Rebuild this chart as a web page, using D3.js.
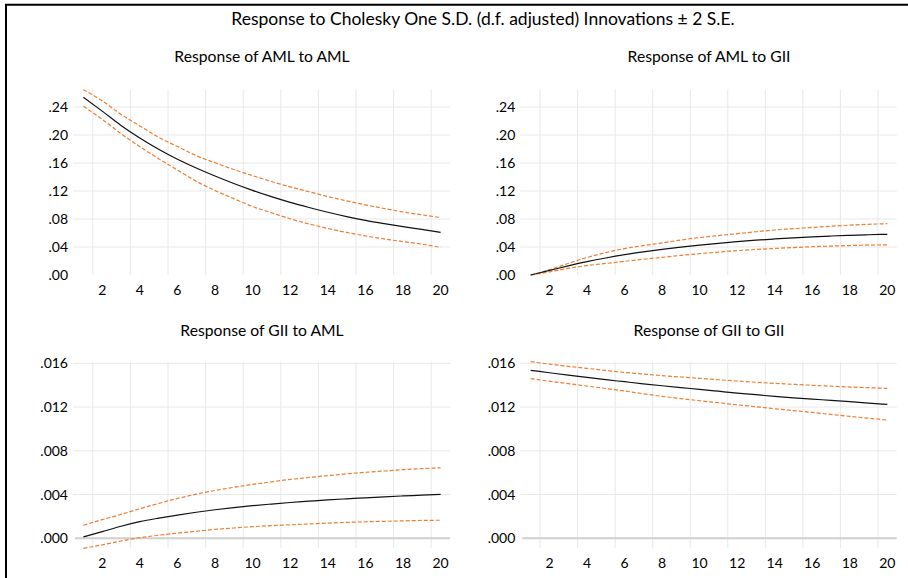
<!DOCTYPE html>
<html>
<head>
<meta charset="utf-8">
<script src="https://cdn.jsdelivr.net/npm/d3@7"></script>
<style>
  html, body { margin: 0; padding: 0; background: #fff; }
  svg { display: block; }
  text { font-family: Lato, "Open Sans", sans-serif; fill: #000; }
</style>
</head>
<body>
<svg id="chart" width="908" height="578"></svg>
<script>
// ---------------- data ----------------
const periods = d3.range(1, 21);
const xTickLabels = [2, 4, 6, 8, 10, 12, 14, 16, 18, 20];
const yTicksTop = [0, 0.04, 0.08, 0.12, 0.16, 0.20, 0.24];
const yTicksBottom = [0, 0.004, 0.008, 0.012, 0.016];

const mainTitle = "Response to Cholesky One S.D. (d.f. adjusted) Innovations \u00b1 2 S.E.";
const panelTitles = ["Response of AML to AML", "Response of AML to GII",
                     "Response of GII to AML", "Response of GII to GII"];

const amlAml   = [0.2540, 0.2341, 0.2137, 0.1957, 0.1796, 0.1654, 0.1529, 0.1414, 0.1307, 0.1209,
                  0.1119, 0.1037, 0.0964, 0.0896, 0.0835, 0.0780, 0.0733, 0.0690, 0.0652, 0.0610];
const amlAmlHi = [0.2648, 0.2487, 0.2295, 0.2130, 0.1968, 0.1835, 0.1705, 0.1603, 0.1507, 0.1419,
                  0.1336, 0.1259, 0.1189, 0.1121, 0.1060, 0.1002, 0.0950, 0.0900, 0.0860, 0.0820];
const amlAmlLo = [0.2410, 0.2224, 0.2019, 0.1834, 0.1662, 0.1500, 0.1340, 0.1207, 0.1091, 0.0978,
                  0.0890, 0.0803, 0.0730, 0.0665, 0.0608, 0.0558, 0.0515, 0.0477, 0.0441, 0.0395];

const amlGii   = [0.0000, 0.0065, 0.0130, 0.0190, 0.0243, 0.0290, 0.0330, 0.0366, 0.0398, 0.0427,
                  0.0453, 0.0476, 0.0497, 0.0515, 0.0531, 0.0545, 0.0557, 0.0567, 0.0575, 0.0581];
const amlGiiHi = [0.0000, 0.0075, 0.0165, 0.0250, 0.0320, 0.0378, 0.0420, 0.0458, 0.0500, 0.0535,
                  0.0563, 0.0590, 0.0618, 0.0643, 0.0662, 0.0680, 0.0697, 0.0712, 0.0724, 0.0733];
const amlGiiLo = [0.0000, 0.0045, 0.0095, 0.0135, 0.0165, 0.0195, 0.0225, 0.0252, 0.0280, 0.0305,
                  0.0327, 0.0348, 0.0365, 0.0379, 0.0392, 0.0404, 0.0413, 0.0421, 0.0427, 0.0430];

const giiAml   = [0.00012, 0.00060, 0.00110, 0.00152, 0.00184, 0.00212, 0.00238, 0.00261, 0.00281, 0.00298,
                  0.00313, 0.00327, 0.00339, 0.00351, 0.00361, 0.00370, 0.00379, 0.00387, 0.00394, 0.00402];
const giiAmlHi = [0.00119, 0.00170, 0.00218, 0.00270, 0.00318, 0.00364, 0.00403, 0.00437, 0.00466, 0.00493,
                  0.00516, 0.00538, 0.00556, 0.00573, 0.00589, 0.00603, 0.00615, 0.00627, 0.00637, 0.00644];
const giiAmlLo = [-0.00092, -0.00060, -0.00025, 0.00005, 0.00028, 0.00047, 0.00064, 0.00081, 0.00094, 0.00106,
                  0.00115, 0.00123, 0.00131, 0.00139, 0.00145, 0.00151, 0.00155, 0.00159, 0.00163, 0.00165];

const giiGii   = [0.01536, 0.01514, 0.01492, 0.01472, 0.01451, 0.01432, 0.01413, 0.01395, 0.01378, 0.01362,
                  0.01345, 0.01328, 0.01313, 0.01298, 0.01285, 0.01273, 0.01261, 0.01249, 0.01236, 0.01224];
const giiGiiHi = [0.01615, 0.01593, 0.01573, 0.01554, 0.01535, 0.01517, 0.01502, 0.01487, 0.01475, 0.01463,
                  0.01450, 0.01438, 0.01427, 0.01417, 0.01408, 0.01399, 0.01391, 0.01383, 0.01377, 0.01371];
const giiGiiLo = [0.01460, 0.01437, 0.01414, 0.01392, 0.01370, 0.01347, 0.01322, 0.01298, 0.01278, 0.01258,
                  0.01240, 0.01221, 0.01203, 0.01185, 0.01168, 0.01151, 0.01133, 0.01115, 0.01098, 0.01081];

// ---------------- layout ----------------
const svg = d3.select("#chart");
svg.append("rect").attr("width", 908).attr("height", 578).attr("fill", "#fff");

const fmtTop = v => d3.format(".2f")(v).replace(/^0\./, ".");
const fmtBot = v => d3.format(".3f")(v).replace(/^0\./, ".");

const panels = [
  { title: panelTitles[0], resp: amlAml, hi: amlAmlHi, lo: amlAmlLo,
    x0: 74, x1: 450, yTop: 89.5, yBot: 275, domain: [0, 0.265], ticks: yTicksTop, fmt: fmtTop,
    titleY: 56, xLabY: 289.5, zero: false },
  { title: panelTitles[1], resp: amlGii, hi: amlGiiHi, lo: amlGiiLo,
    x0: 521.3, x1: 896.7, yTop: 89.5, yBot: 275, domain: [0, 0.265], ticks: yTicksTop, fmt: fmtTop,
    titleY: 56, xLabY: 289.5, zero: false },
  { title: panelTitles[2], resp: giiAml, hi: giiAmlHi, lo: giiAmlLo,
    x0: 74, x1: 450, yTop: 361.7, yBot: 548.1, domain: [-0.0009, 0.01615], ticks: yTicksBottom, fmt: fmtBot,
    titleY: 330, xLabY: 562, zero: true },
  { title: panelTitles[3], resp: giiGii, hi: giiGiiHi, lo: giiGiiLo,
    x0: 521.3, x1: 896.7, yTop: 361.7, yBot: 548.1, domain: [-0.0009, 0.01615], ticks: yTicksBottom, fmt: fmtBot,
    titleY: 330, xLabY: 562, zero: true }
];

const gridColor = "#e8e8e8";
const orange = "#ED7D31";

panels.forEach(p => {
  const g = svg.append("g");
  const x = d3.scaleBand().domain(periods).range([p.x0, p.x1]).paddingInner(0).paddingOuter(0);
  const xc = d => x(d) + x.bandwidth() / 2;
  const y = d3.scaleLinear().domain(p.domain).range([p.yBot, p.yTop]);

  // vertical gridlines at band boundaries before even periods
  g.selectAll("line.vg").data(xTickLabels).enter().append("line")
    .attr("x1", d => x(d)).attr("x2", d => x(d))
    .attr("y1", p.yTop).attr("y2", p.yBot)
    .attr("stroke", gridColor).attr("stroke-width", 1);

  // horizontal gridlines (non-zero)
  g.selectAll("line.hg").data(p.ticks.filter(t => t !== 0)).enter().append("line")
    .attr("x1", p.x0 - 1).attr("x2", p.x1)
    .attr("y1", d => y(d)).attr("y2", d => y(d))
    .attr("stroke", gridColor).attr("stroke-width", 1);

  if (p.zero) {
    g.append("line")
      .attr("x1", p.x0 + 1).attr("x2", p.x1)
      .attr("y1", y(0)).attr("y2", y(0))
      .attr("stroke", "#cfcfcf").attr("stroke-width", 2);
  }

  // y axis labels
  const yAxis = d3.axisLeft(y).tickValues(p.ticks).tickFormat(p.fmt).tickSize(0).tickPadding(6);
  const ya = g.append("g").attr("transform", `translate(${p.x0},0)`).call(yAxis);
  ya.select(".domain").remove();
  ya.selectAll("text").attr("font-family", "Lato, sans-serif").attr("font-size", 14).attr("fill", "#000");

  // x axis labels
  g.selectAll("text.xl").data(xTickLabels).enter().append("text")
    .attr("x", d => xc(d)).attr("y", p.xLabY)
    .attr("text-anchor", "middle").attr("dominant-baseline", "central")
    .attr("font-size", 14).text(d => d);

  // lines
  const line = d3.line().x((d, i) => xc(periods[i])).y(d => y(d)).curve(d3.curveMonotoneX);
  g.append("path").datum(p.hi).attr("d", line).attr("fill", "none")
    .attr("stroke", orange).attr("stroke-width", 1.2).attr("stroke-dasharray", "4,2");
  g.append("path").datum(p.lo).attr("d", line).attr("fill", "none")
    .attr("stroke", orange).attr("stroke-width", 1.2).attr("stroke-dasharray", "4,2");
  g.append("path").datum(p.resp).attr("d", line).attr("fill", "none")
    .attr("stroke", "#111").attr("stroke-width", 1.2);

  // panel title
  g.append("text").attr("x", (p.x0 + p.x1) / 2).attr("y", p.titleY)
    .attr("text-anchor", "middle").attr("dominant-baseline", "central")
    .attr("font-size", 15.7).text(p.title);
});

// main title
svg.append("text").attr("x", 483).attr("y", 18)
  .attr("text-anchor", "middle").attr("dominant-baseline", "central")
  .attr("font-size", 17.5).text(mainTitle);

// frame (top and left edges visible)
svg.append("line").attr("x1", 5).attr("x2", 908).attr("y1", 4.8).attr("y2", 4.8)
  .attr("stroke", "#000").attr("stroke-width", 2);
svg.append("line").attr("x1", 6).attr("x2", 6).attr("y1", 4).attr("y2", 578)
  .attr("stroke", "#000").attr("stroke-width", 2);
</script>
</body>
</html>
